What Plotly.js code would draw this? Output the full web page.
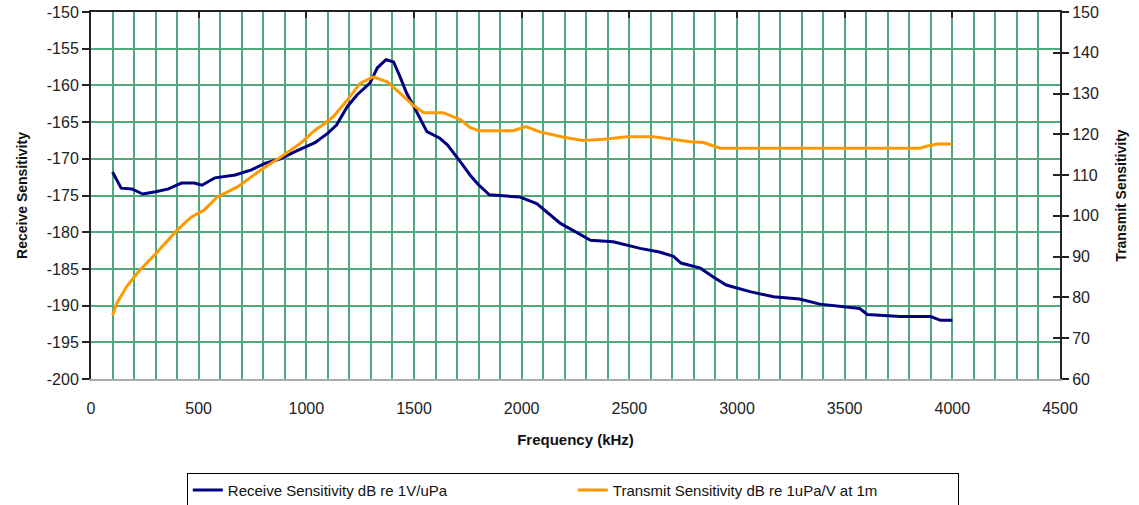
<!DOCTYPE html>
<html>
<head>
<meta charset="utf-8">
<script src="https://cdn.plot.ly/plotly-3.0.1.min.js"></script>
<style>html,body{margin:0;padding:0;background:#fff;}#chart{width:1139px;height:505px;}</style>
</head>
<body>
<div id="chart"></div>
<script>
// Receive sensitivity (left axis, dB re 1V/uPa)
var receiveFreq = [100,140,190,240,300,360,420,480,515,575,670,745,810,880,950,1040,1100,1140,1190,1235,1295,1330,1370,1405,1435,1465,1500,1530,1560,1620,1655,1720,1760,1795,1850,1990,2070,2180,2320,2425,2550,2640,2705,2740,2830,2890,2950,3060,3170,3290,3385,3570,3605,3760,3900,3945,4000];
var receiveVals = [-171.8,-174,-174.1,-174.8,-174.5,-174.1,-173.3,-173.3,-173.6,-172.6,-172.2,-171.5,-170.6,-170,-169,-167.8,-166.5,-165.4,-162.9,-161.3,-159.7,-157.6,-156.5,-156.8,-158.8,-161,-162.9,-164.7,-166.3,-167.2,-168.1,-170.6,-172.2,-173.4,-174.9,-175.2,-176.1,-178.8,-181.1,-181.3,-182.2,-182.7,-183.3,-184.2,-184.9,-186.1,-187.2,-188.1,-188.8,-189.1,-189.8,-190.4,-191.2,-191.5,-191.5,-192,-192];

// Transmit sensitivity (right axis, dB re 1uPa/V at 1m)
var transmitFreq = [100,120,165,215,295,400,465,525,585,680,790,880,975,1040,1065,1125,1190,1250,1310,1375,1435,1495,1545,1635,1715,1760,1800,1960,2020,2085,2195,2285,2380,2490,2610,2705,2785,2845,2920,3850,3880,3930,4000];
var transmitVals = [75.7,78.6,82.6,86,90.4,96.5,99.7,101.4,104.6,107.1,111.3,114.4,117.9,121,121.9,124.3,128.4,132.5,134.1,132.9,130.1,127.2,125.3,125.3,123.6,121.7,120.9,120.9,121.9,120.6,119.3,118.5,118.8,119.4,119.4,118.7,118.2,118,116.6,116.6,117.1,117.6,117.6];

// Tick labels
var leftTickVals = [-200,-195,-190,-185,-180,-175,-170,-165,-160,-155,-150];
var leftTickText = ["-200","-195","-190","-185","-180","-175","-170","-165","-160","-155","-150"];

var seriesNames = ["Receive Sensitivity dB re 1V/uPa", "Transmit Sensitivity dB re 1uPa/V at 1m"];
var xTitle = "Frequency (kHz)";
var yLeftTitle = "Receive Sensitivity";
var yRightTitle = "Transmit Sensitivity";

var gridColor = "#4fa97c";
var fontFam = "Liberation Sans, Arial, sans-serif";

var traces = [
  {x: receiveFreq, y: receiveVals, name: seriesNames[0], type: "scatter", mode: "lines",
   line: {color: "#000080", width: 3}, yaxis: "y"},
  {x: transmitFreq, y: transmitVals, name: seriesNames[1], type: "scatter", mode: "lines",
   line: {color: "#FF9900", width: 3}, yaxis: "y2"}
];

var layout = {
  width: 1139, height: 505,
  margin: {l: 91, r: 79, t: 12, b: 126, autoexpand: false},
  paper_bgcolor: "#ffffff", plot_bgcolor: "#ffffff",
  font: {family: fontFam, size: 16, color: "#222"},
  showlegend: true,
  legend: {orientation: "h", xref: "container", yref: "container",
    x: 0.164, xanchor: "left", y: 0.064, yanchor: "top",
    bordercolor: "#000", borderwidth: 1, bgcolor: "#fff",
    font: {family: fontFam, size: 15, color: "#111"},
    entrywidth: 340, entrywidthmode: "pixels", tracegroupgap: 0, itemwidth: 30},
  xaxis: {range: [0, 4500], dtick: 500, tick0: 0, showgrid: true, gridcolor: gridColor, gridwidth: 2,
    minor: {dtick: 100, showgrid: true, gridcolor: gridColor, gridwidth: 2, ticks: ""},
    zeroline: false, showline: true, linecolor: "#aaaaaa", linewidth: 2, automargin: false,
    ticks: "", ticklabelstandoff: 14,
    tickfont: {family: fontFam, size: 16, color: "#222"},
    title: {text: xTitle, font: {family: fontFam, size: 15, color: "#111", weight: "bold"}, standoff: 18}},
  xaxis2: {range: [0, 4500], dtick: 500, tick0: 0, overlaying: "x", side: "top", anchor: "y",
    showgrid: false, zeroline: false, showline: true, linecolor: "#222", linewidth: 2, automargin: false,
    ticks: "inside", ticklen: 6, tickwidth: 2, tickcolor: "#222", showticklabels: false},
  yaxis: {range: [-200, -150], tickmode: "array", tickvals: leftTickVals, ticktext: leftTickText,
    showgrid: true, gridcolor: gridColor, gridwidth: 2, automargin: false,
    zeroline: false, showline: true, linecolor: "#222", linewidth: 2,
    ticks: "outside", ticklen: 7, tickwidth: 2, tickcolor: "#222",
    tickfont: {family: fontFam, size: 16, color: "#222"},
    title: {text: yLeftTitle, font: {family: fontFam, size: 14, color: "#111", weight: "bold"}, standoff: 16}},
  yaxis2: {range: [60, 150], dtick: 10, tick0: 60, overlaying: "y", side: "right", anchor: "x",
    showgrid: false, zeroline: false, showline: true, linecolor: "#222", linewidth: 2, automargin: false,
    ticks: "outside", ticklen: 7, tickwidth: 2, tickcolor: "#222",
    tickfont: {family: fontFam, size: 16, color: "#222"},
    title: {text: yRightTitle, font: {family: fontFam, size: 14, color: "#111", weight: "bold"}, standoff: 18}},
  yaxis3: {range: [60, 150], dtick: 10, tick0: 60, overlaying: "y", side: "right", anchor: "x",
    showgrid: false, zeroline: false, showline: false, automargin: false,
    ticks: "inside", ticklen: 7, tickwidth: 2, tickcolor: "#222", showticklabels: false}
};

// invisible helper trace to activate xaxis2 / yaxis3 (no data)
traces.push({x: [], y: [], xaxis: "x2", yaxis: "y3", showlegend: false, hoverinfo: "skip", type: "scatter", mode: "lines"});

Plotly.newPlot("chart", traces, layout, {staticPlot: true, displayModeBar: false});
</script>
</body>
</html>
